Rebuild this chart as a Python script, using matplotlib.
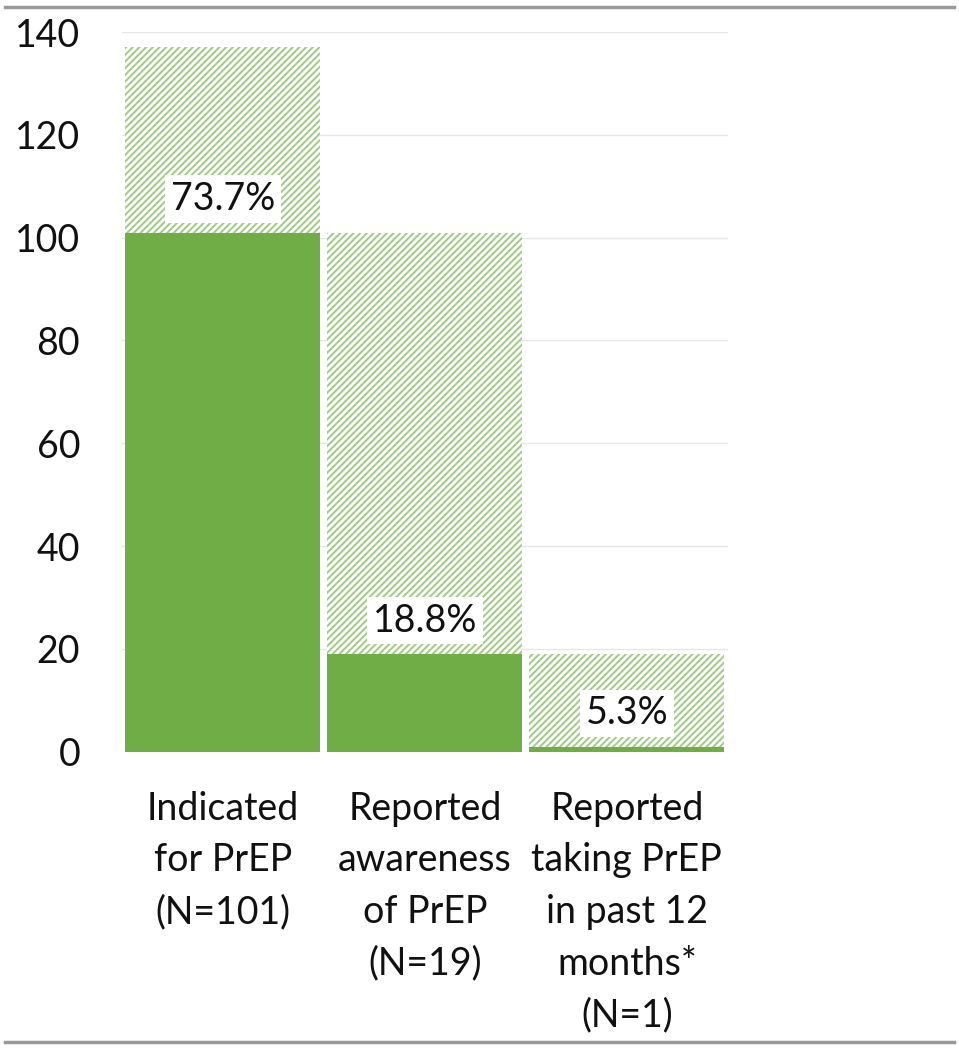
import numpy as np
import matplotlib.pyplot as plt
from matplotlib.lines import Line2D

categories = ["Indicated\nfor PrEP\n(N=101)",
              "Reported\nawareness\nof PrEP\n(N=19)",
              "Reported\ntaking PrEP\nin past 12\nmonths*\n(N=1)"]
totals = [137, 101, 19]      # hatched bars (previous step)
counts = [101, 19, 1]        # solid bars
pct_labels = ["73.7%", "18.8%", "5.3%"]
yticks = [0, 20, 40, 60, 80, 100, 120, 140]

plt.rcParams['font.family'] = ['Lato', 'DejaVu Sans']
plt.rcParams['hatch.linewidth'] = 1.4

fig = plt.figure(figsize=(9.59, 10.5), dpi=100)
ax = fig.add_axes([0.127, 0.284, 0.632, 0.6855])

x = np.arange(len(categories))
w = 0.965
ax.bar(x, totals, width=w, color='white', hatch='/////', edgecolor='#9fcc82',
       linewidth=0, zorder=2)
ax.bar(x, counts, width=w, color='#70ad47', edgecolor='none', zorder=3)

for xi, c, lab in zip(x, counts, pct_labels):
    ax.text(xi, c + 6.5, lab, ha='center', va='center', fontsize=27, color='#111111',
            bbox=dict(facecolor='white', edgecolor='none', pad=4), zorder=4)

ax.set_xlim(-0.5, 2.5)
ax.set_ylim(0, 140)
ax.set_yticks(yticks)
ax.yaxis.grid(True, color='#e6e6e6', linewidth=1)
ax.set_axisbelow(True)
for s in ax.spines.values():
    s.set_visible(False)
ax.tick_params(axis='y', length=0, pad=30, labelsize=27, labelcolor='#111111')
ax.tick_params(axis='x', length=0, pad=28, labelsize=27, labelcolor='#111111')
ax.set_xticks(x)
ax.set_xticklabels(categories, linespacing=1.54, va='top')

# horizontal rules above and below the figure
fig.add_artist(Line2D([0.005, 0.995], [0.993, 0.993], color='#999999', linewidth=2.5))
fig.add_artist(Line2D([0.005, 0.995], [0.0075, 0.0075], color='#999999', linewidth=2.5))

fig.savefig('out.png', dpi=100)
